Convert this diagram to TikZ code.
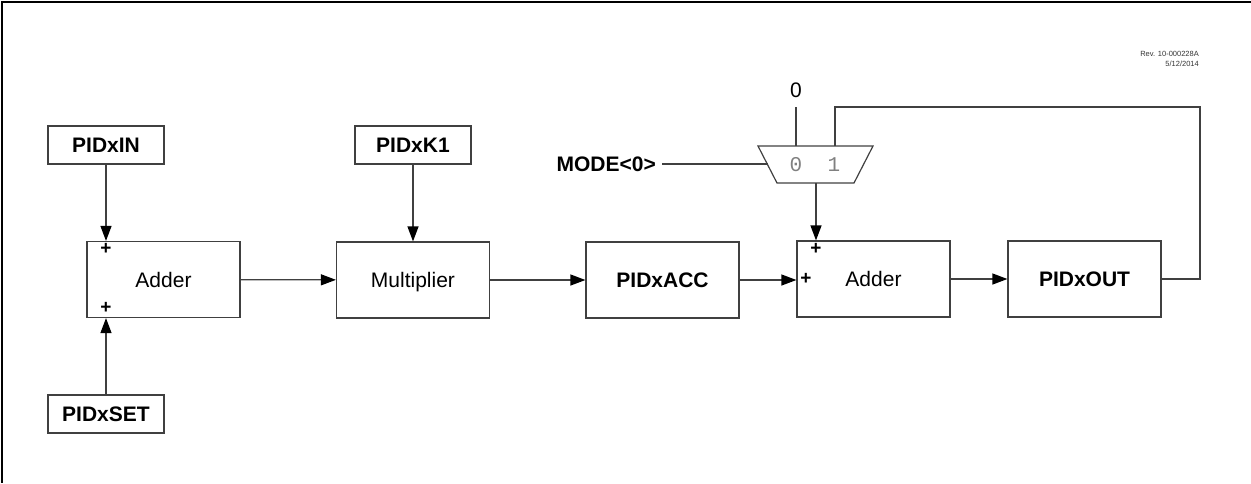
\documentclass[tikz,border=0pt]{standalone}
\usepackage{fontspec}
\setmainfont{Liberation Sans}
\newfontfamily\muxfont{Liberation Mono}
\usetikzlibrary{arrows.meta}
\definecolor{linec}{gray}{0.25}
\tikzset{
  blk/.style={draw=linec, line width=1.2pt, minimum width=153pt, minimum height=76pt, inner sep=0pt, text height=15pt, text depth=0pt, font=\fontsize{21}{25}\selectfont},
  regbox/.style={draw=linec, line width=1.2pt, minimum width=116pt, minimum height=38pt, inner sep=0pt, text height=15pt, text depth=0pt, font=\fontsize{21}{25}\selectfont\bfseries},
  wire/.style={draw=linec, line width=1.2pt},
  arr/.style={wire, -{Triangle[length=15pt,width=11pt,color=black]}},
  plus/.style={inner sep=0pt, font=\fontsize{19}{22}\selectfont\bfseries},
  muxnum/.style={inner sep=0pt, text=black!50, font=\fontsize{21}{25}\selectfont\muxfont},
}
\begin{document}
\begin{tikzpicture}[x=1pt,y=-1pt]
\useasboundingbox (0,0) rectangle (1251,483);
% frame
\draw[line width=2.5pt] (1251,2) -- (2.2,2) -- (2.2,483);

% registers
\node[regbox] (pidin) at (106,145) {PIDxIN};
\node[regbox] (pidset) at (106,414) {PIDxSET};
\node[regbox] (pidk1) at (413,145) {PIDxK1};

% blocks
\node[blk] (add1) at (163.5,279.5) {Adder};
\node[blk] (mult) at (413,280) {Multiplier};
\node[blk, font=\fontsize{21}{25}\selectfont\bfseries] (acc) at (662.5,280) {PIDxACC};
\node[blk] (add2) at (873.5,279) {Adder};
\node[blk, font=\fontsize{21}{25}\selectfont\bfseries] (pidout) at (1084.5,279) {PIDxOUT};

% plus signs
\node[plus] (p1) at (106,249) {+};
\node[plus] (p2) at (106,308) {+};
\node[plus] (p3) at (816,249) {+};
\node[plus] (p4) at (806,279) {+};

% multiplexer
\draw[wire, line join=miter] (758,146) -- (873,146) -- (854,183) -- (777,183) -- cycle;
\coordinate (muxin0) at (796,146);
\coordinate (muxin1) at (835,146);
\coordinate (muxout) at (816,183);
\coordinate (muxsel) at (767.5,164);
\node[muxnum] (m0) at (796,165) {0};
\node[muxnum] (m1) at (834,165) {1};

\node[inner sep=0pt, anchor=south, font=\fontsize{21}{25}\selectfont] (zero) at (796,98) {0};
\coordinate (zeroend) at (796,107);
\node[inner sep=0pt, anchor=east, font=\fontsize{21}{25}\selectfont\bfseries] (mode) at (656,164) {MODE<0>};
\coordinate (modeend) at (662,164);

% connections
\draw[arr] (pidin) -- (pidin |- add1.north);
\draw[arr] (pidset) -- (pidset |- add1.south);
\draw[arr] (add1) -- (mult);
\draw[arr] (pidk1) -- (pidk1 |- mult.north);
\draw[arr] (mult) -- (acc);
\draw[arr] (acc.east) -- (acc.east -| add2.west);
\draw[arr] (add2) -- (pidout);
\draw[arr] (muxout) -- (muxout |- add2.north);
\draw[wire] (zeroend) -- (muxin0);
\draw[wire] (modeend) -- (muxsel);
\coordinate (fb) at (1200,107);
\draw[wire] (pidout.east) -| (fb) -| (muxin1);

% revision note
\node[anchor=north east, align=right, inner sep=0pt, text=black!80, font=\fontsize{7.5}{10}\selectfont] (rev) at (1199,51) {Rev. 10-000228A\\5/12/2014};
\end{tikzpicture}
\end{document}
